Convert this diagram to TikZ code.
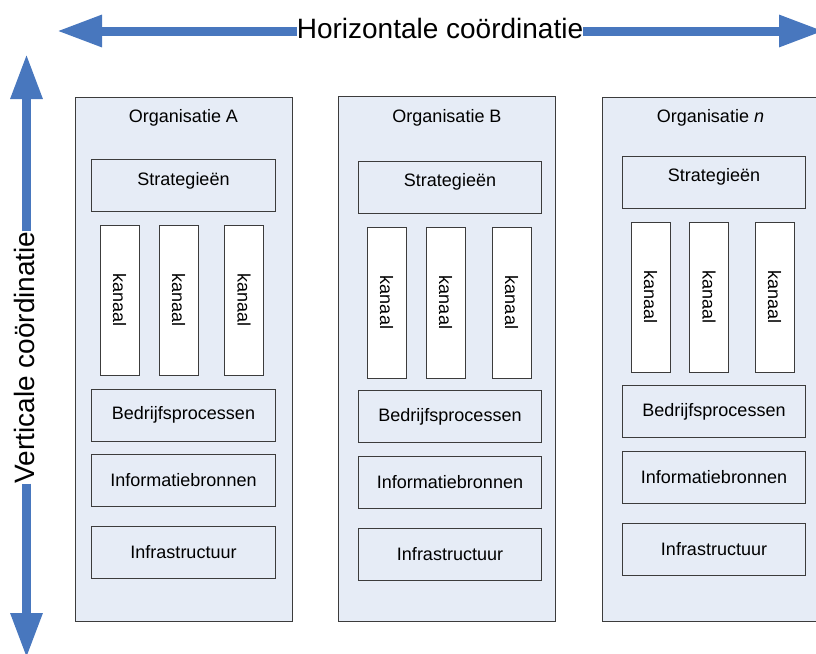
\documentclass[tikz,border=0pt]{standalone}
\usepackage{fontspec}
\setmainfont{Liberation Sans}
\usetikzlibrary{arrows.meta}
\definecolor{pijlblauw}{RGB}{72,119,190}
\definecolor{orgvlak}{RGB}{230,236,246}
\definecolor{rand}{RGB}{60,60,60}

\begin{document}
\begin{tikzpicture}[x=1pt,y=-1pt,
    org/.style={draw=rand,fill=orgvlak,line width=0.9pt,inner sep=0pt,
      minimum width=217pt,minimum height=524pt},
    tekst/.style={font=\fontsize{18}{21}\selectfont},
    laag/.style={tekst,draw=rand,line width=0.9pt,inner sep=0pt,
      minimum width=183.5pt,minimum height=52pt},
    kanaal/.style={tekst,draw=rand,fill=white,line width=0.9pt,inner sep=0pt,
      rotate=-90,minimum width=150pt,minimum height=39pt},
    as/.style={font=\fontsize{28}{32}\selectfont,inner sep=0pt,outer sep=0pt},
    pijl/.style={draw=pijlblauw,line width=9pt,-{Triangle[length=45pt,width=30pt]}}]
  \useasboundingbox (0,0) rectangle (816,653);

  % assen
  \coordinate (hlinks) at (57,31);
  \coordinate (hrechts) at (824,31);
  \node[as] (hlabel) at (440,28.5) {Horizontale coördinatie};
  \draw[pijl] (hlabel.west |- hlinks) -- (hlinks);
  \draw[pijl] (hlabel.east |- hrechts) -- (hrechts);

  \coordinate (vboven) at (26.5,54);
  \coordinate (vonder) at (26.5,658);
  \node[as,rotate=90] (vlabel) at (24,357.5) {Verticale coördinatie};
  \draw[pijl] (vlabel.east -| vboven) -- (vboven);
  \draw[pijl] (vlabel.west -| vboven) -- (vonder);

  % organisatie A
  \node[org] (orgA) at (183.5,359) {};
  \node[tekst] (naamA) at (183.5,117.5) {Organisatie A};
  \node[laag,label={[tekst,yshift=5pt]center:Strategieën}] (stratA) at (183.5,185.5) {};
  \node[kanaal] (kanA1) at (119.5,300) {kanaal};
  \node[kanaal] (kanA2) at (178.5,300) {kanaal};
  \node[kanaal] (kanA3) at (244,300) {kanaal};
  \node[laag] (procA) at (183.5,415) {Bedrijfsprocessen};
  \node[laag] (infoA) at (183.5,480) {Informatiebronnen};
  \node[laag] (infraA) at (183.5,552) {Infrastructuur};

  % organisatie B
  \node[org,minimum height=525pt] (orgB) at (447,358.5) {};
  \node[tekst] (naamB) at (447,117.5) {Organisatie B};
  \node[laag,label={[tekst,yshift=5pt]center:Strategieën}] (stratB) at (450,187) {};
  \node[kanaal,minimum width=151pt] (kanB1) at (386.5,302.5) {kanaal};
  \node[kanaal,minimum width=151pt] (kanB2) at (445.5,302.5) {kanaal};
  \node[kanaal,minimum width=151pt] (kanB3) at (511.5,302.5) {kanaal};
  \node[laag] (procB) at (450,416.5) {Bedrijfsprocessen};
  \node[laag] (infoB) at (450,482) {Informatiebronnen};
  \node[laag] (infraB) at (450,554) {Infrastructuur};

  % organisatie n
  \node[org] (orgN) at (710.5,359) {};
  \node[tekst] (naamN) at (710.5,118) {Organisatie \textit{n}};
  \node[laag,label={[tekst,yshift=5pt]center:Strategieën}] (stratN) at (714,182) {};
  \node[kanaal] (kanN1) at (650.5,297) {kanaal};
  \node[kanaal] (kanN2) at (709,297) {kanaal};
  \node[kanaal] (kanN3) at (774.5,297) {kanaal};
  \node[laag] (procN) at (714,411.5) {Bedrijfsprocessen};
  \node[laag] (infoN) at (714,477) {Informatiebronnen};
  \node[laag] (infraN) at (714,549) {Infrastructuur};
\end{tikzpicture}
\end{document}
